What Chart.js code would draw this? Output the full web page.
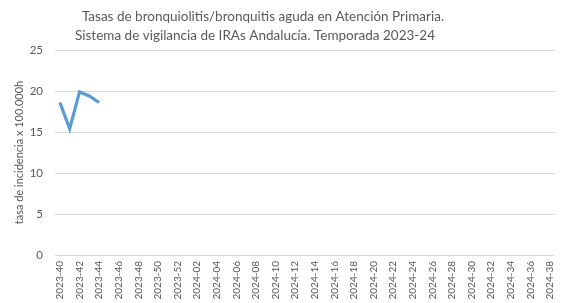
<!DOCTYPE html>
<html><head><meta charset="utf-8">
<script src="https://cdn.jsdelivr.net/npm/chart.js@4.4.1/dist/chart.umd.min.js"></script>
<style>html,body{margin:0;padding:0;background:#fff}canvas{display:block}</style>
</head><body>
<canvas id="c" width="568" height="303"></canvas>
<script>
const titleLines = ["Tasas de bronquiolitis/bronquitis aguda en Atención Primaria.", "Sistema de vigilancia de IRAs Andalucía. Temporada 2023-24"];
const yAxisTitle = "tasa de incidencia x 100.000h";
const weeks = ["2023-40","2023-41","2023-42","2023-43","2023-44","2023-45","2023-46","2023-47","2023-48","2023-49","2023-50","2023-51","2023-52",
"2024-01","2024-02","2024-03","2024-04","2024-05","2024-06","2024-07","2024-08","2024-09","2024-10","2024-11","2024-12","2024-13","2024-14",
"2024-15","2024-16","2024-17","2024-18","2024-19","2024-20","2024-21","2024-22","2024-23","2024-24","2024-25","2024-26","2024-27","2024-28",
"2024-29","2024-30","2024-31","2024-32","2024-33","2024-34","2024-35","2024-36","2024-37","2024-38"];
const rates = [18.6, 15.4, 19.9, 19.4, 18.6];
const yTicks = [0, 5, 10, 15, 20, 25];

const FONT = "Lato, 'Liberation Sans', sans-serif";
const TXT = "#595959";

const titlePlugin = {
  id: 'customTitle',
  afterDraw(chart) {
    const ctx = chart.ctx;
    ctx.save();
    ctx.fillStyle = TXT;
    ctx.font = "13.5px " + FONT;
    ctx.textAlign = "center";
    ctx.textBaseline = "middle";
    ctx.fillText(titleLines[0], 263, 17);
    ctx.fillText(titleLines[1], 255, 36);
    ctx.restore();
  }
};

new Chart(document.getElementById('c'), {
  type: 'line',
  data: {
    labels: weeks,
    datasets: [{
      data: rates,
      borderColor: '#5B9BD5',
      borderWidth: 3.2,
      pointRadius: 0,
      tension: 0,
      fill: false,
      spanGaps: false
    }]
  },
  options: {
    responsive: false,
    animation: false,
    devicePixelRatio: 1,
    layout: { padding: { top: 50, right: 2, left: 0, bottom: 0 } },
    plugins: { legend: { display: false }, tooltip: { enabled: false }, title: { display: false } },
    scales: {
      x: {
        offset: true,
        grid: { display: false, drawTicks: false },
        border: { display: false },
        ticks: {
          autoSkip: false,
          minRotation: 90, maxRotation: 90,
          padding: 6,
          color: TXT,
          font: { family: FONT, size: 10 },
          callback: function(v, i) { return i % 2 === 0 ? weeks[i] : ''; }
        },
        afterFit(s) { s.height = 48; }
      },
      y: {
        min: yTicks[0], max: yTicks[yTicks.length - 1],
        ticks: { stepSize: 5, padding: 12, color: TXT, font: { family: FONT, size: 11.5 } },
        grid: { color: '#d9d9d9', lineWidth: 1, drawTicks: false },
        border: { display: false },
        title: { display: true, text: yAxisTitle, color: TXT, font: { family: FONT, size: 11 }, padding: { top: 13, bottom: 0 } },
        afterFit(s) { s.width = 55; }
      }
    }
  },
  plugins: [titlePlugin]
});
</script>
</body></html>
